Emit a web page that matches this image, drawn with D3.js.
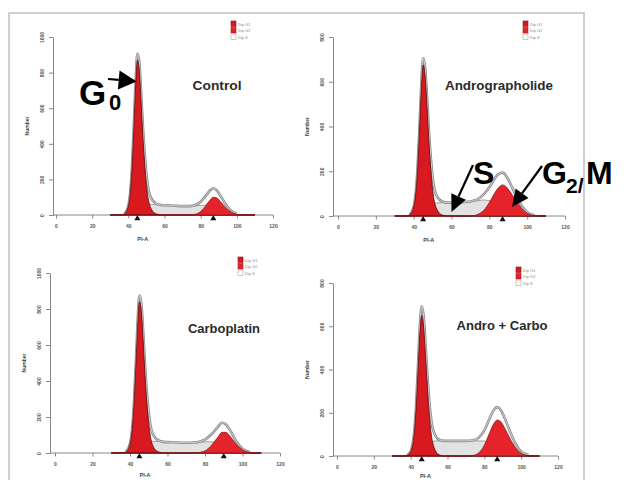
<!DOCTYPE html>
<html>
<head>
<meta charset="utf-8">
<script src="https://cdn.jsdelivr.net/npm/d3@7"></script>
<style>
  body { margin: 0; background: #fff; }
</style>
</head>
<body>
<svg id="chart"></svg>
<script>
// DNA content channel (PI-A), shared by all four histograms
const dna = [30, 36, 38, 40, 42, 43, 44, 45, 46, 47, 48, 50, 52, 55, 58, 62, 66, 70, 74, 77, 80, 83, 85, 87, 89, 91, 94, 97, 100, 104, 110];

const titles = ["Control", "Andrographolide", "Carboplatin", "Andro + Carbo"];
const yMax = [1000, 800, 1000, 800];
const g1Mean = [45, 45, 45, 46];
const g2Mean = [87, 87, 90, 87];
const xTicks = [0, 20, 40, 60, 80, 100, 120];
const legendLabels = ["Dip G1", "Dip G2", "Dip S"];

// cell counts per channel
const g1Control = [0, 0, 8, 50, 260, 480, 720, 870, 820, 650, 450, 170, 50, 8, 0, 0, 0, 0, 0, 0, 0, 0, 0, 0, 0, 0, 0, 0, 0, 0, 0];
const sControl  = [0, 0, 0, 2, 8, 15, 25, 35, 45, 52, 56, 60, 60, 58, 56, 54, 52, 50, 50, 52, 54, 55, 54, 50, 42, 32, 18, 8, 3, 0, 0];
const g2Control = [0, 0, 0, 0, 0, 0, 0, 0, 0, 0, 0, 0, 0, 0, 0, 0, 0, 0, 0, 4, 20, 55, 82, 100, 95, 75, 40, 15, 4, 0, 0];

const g1Andro = [0, 0, 6, 40, 200, 370, 560, 675, 630, 500, 340, 120, 35, 5, 0, 0, 0, 0, 0, 0, 0, 0, 0, 0, 0, 0, 0, 0, 0, 0, 0];
const sAndro  = [0, 0, 0, 2, 8, 14, 22, 30, 38, 45, 50, 56, 58, 60, 60, 60, 62, 65, 68, 72, 68, 64, 60, 55, 48, 38, 24, 12, 5, 1, 0];
const g2Andro = [0, 0, 0, 0, 0, 0, 0, 0, 0, 0, 0, 0, 0, 0, 0, 0, 0, 0, 8, 25, 60, 105, 128, 139, 130, 108, 70, 35, 12, 2, 0];

const g1Carbo = [0, 0, 8, 50, 250, 460, 690, 840, 790, 630, 430, 160, 45, 7, 0, 0, 0, 0, 0, 0, 0, 0, 0, 0, 0, 0, 0, 0, 0, 0, 0];
const sCarbo  = [0, 0, 0, 2, 8, 15, 25, 35, 45, 52, 58, 63, 65, 64, 62, 60, 58, 57, 58, 60, 62, 62, 60, 57, 53, 45, 30, 15, 6, 1, 0];
const g2Carbo = [0, 0, 0, 0, 0, 0, 0, 0, 0, 0, 0, 0, 0, 0, 0, 0, 0, 0, 0, 3, 12, 38, 62, 90, 115, 115, 85, 45, 18, 3, 0];

const g1Combo = [0, 0, 3, 20, 110, 230, 400, 570, 650, 600, 470, 200, 60, 8, 0, 0, 0, 0, 0, 0, 0, 0, 0, 0, 0, 0, 0, 0, 0, 0, 0];
const sCombo  = [0, 0, 0, 2, 8, 14, 22, 32, 42, 50, 56, 64, 68, 70, 70, 70, 70, 70, 70, 70, 69, 66, 63, 60, 54, 46, 32, 18, 8, 2, 0];
const g2Combo = [0, 0, 0, 0, 0, 0, 0, 0, 0, 0, 0, 0, 0, 0, 0, 0, 0, 0, 3, 15, 50, 110, 148, 166, 158, 130, 80, 38, 12, 2, 0];

const g1Series = [g1Control, g1Andro, g1Carbo, g1Combo];
const sSeries  = [sControl, sAndro, sCarbo, sCombo];
const g2Series = [g2Control, g2Andro, g2Carbo, g2Combo];

//------------------------------

const W = 625, H = 480;
const font = "'Liberation Sans', Arial, sans-serif";

// pixel frame of each panel
const layout = [
  {axisX: 53,  x0: 56,  x1: 273, y0: 215, y1: 37,  tx: 217, ty: 90,  tw: 49,  lab: 26},
  {axisX: 333, x0: 338, x1: 565, y0: 216, y1: 37,  tx: 499, ty: 90,  tw: 108, lab: 26},
  {axisX: 50,  x0: 55,  x1: 280, y0: 453, y1: 273, tx: 224, ty: 333, tw: 72,  lab: 24},
  {axisX: 333, x0: 337, x1: 558, y0: 456, y1: 283, tx: 502, ty: 330, tw: 91,  lab: 22}
];

const colors = {
  g1: "#d81920", g1Edge: "#5a0a0a",
  g2: "#e4242a", g2Edge: "#7a1010",
  s: "#e2e2e2", sEdge: "#7d7d7d",
  total: "#8a8a8a", axis: "#6a6a6a", tick: "#555"
};

let canvas = d3.select("#chart")
  .attr("xmlns", "http://www.w3.org/2000/svg")
  .attr("width", W)
  .attr("height", H);

canvas.append("rect")
  .attr("x", 0).attr("y", 0).attr("width", W).attr("height", H)
  .attr("fill", "#fff");

// outer frame of the figure
canvas.append("rect")
  .attr("x", 9).attr("y", 13)
  .attr("width", 575).attr("height", 490)
  .attr("fill", "none")
  .attr("stroke", "#c4c4c4")
  .attr("stroke-width", 1.6);

layout.forEach((p, i) => panelCreate(p, i));
annotCreate();

//------------------------------

function panelCreate(p, i) {
  const x = d3.scaleLinear().domain([0, 120]).range([p.x0, p.x1]);
  const y = d3.scaleLinear().domain([0, yMax[i]]).range([p.y0, p.y1]);
  const g = canvas.append("g");

  const rows = dna.map((d, k) => ({
    x: d,
    g1: g1Series[i][k],
    s: sSeries[i][k],
    g2: g2Series[i][k],
    total: g1Series[i][k] + sSeries[i][k] + g2Series[i][k]
  }));

  axisCreate(g, p, x, y, i);
  histCreate(g, rows, x, y);
  legendCreate(g, p);

  // peak markers
  g.selectAll("path.mark")
    .data([g1Mean[i], g2Mean[i]])
    .enter()
    .append("path")
    .attr("class", "mark")
    .attr("d", d3.symbol(d3.symbolTriangle).size(16))
    .attr("transform", d => `translate(${x(d)},${p.y0 + 3.5})`)
    .attr("fill", "#111");

  g.append("text")
    .attr("x", p.tx)
    .attr("y", p.ty)
    .attr("text-anchor", "middle")
    .attr("font-family", font)
    .attr("font-weight", "bold")
    .attr("font-size", 12)
    .attr("fill", "#2a2a2a")
    .attr("textLength", p.tw)
    .attr("lengthAdjust", "spacingAndGlyphs")
    .text(titles[i]);
}

function axisCreate(g, p, x, y, i) {
  // y axis
  const yAxis = g.append("g").attr("transform", `translate(${p.axisX},0)`);
  yAxis.call(d3.axisLeft(y).tickValues(d3.range(0, yMax[i] + 1, 40)).tickSize(2).tickFormat(""));
  yAxis.call(d3.axisLeft(y).tickValues(d3.range(0, yMax[i] + 1, 200)).tickSize(4).tickSizeOuter(0).tickFormat(d3.format("d")));
  yAxis.selectAll("path, line").attr("stroke", colors.axis).attr("stroke-width", 0.8);
  yAxis.selectAll("text")
    .attr("transform", "rotate(-90)")
    .attr("x", 0)
    .attr("y", -9)
    .attr("dy", 0)
    .attr("text-anchor", "middle")
    .attr("font-family", font)
    .attr("font-weight", "bold")
    .attr("font-size", 5)
    .attr("fill", colors.tick);

  // x axis
  const xAxis = g.append("g").attr("transform", `translate(0,${p.y0})`);
  xAxis.call(d3.axisBottom(x).tickValues(d3.range(0, 121, 4)).tickSize(2).tickFormat("").tickSizeOuter(0));
  xAxis.call(d3.axisBottom(x).tickValues(xTicks).tickSize(3.5).tickSizeOuter(0).tickPadding(6));
  xAxis.select(".domain").attr("d", `M${p.axisX},0H${p.x1}`);
  xAxis.selectAll("path, line").attr("stroke", colors.axis).attr("stroke-width", 0.8);
  xAxis.selectAll("text")
    .attr("font-family", font)
    .attr("font-weight", "bold")
    .attr("font-size", 5)
    .attr("fill", colors.tick);

  g.append("text")
    .attr("transform", `translate(${p.axisX - 24},${(p.y0 + p.y1) / 2}) rotate(-90)`)
    .attr("text-anchor", "middle")
    .attr("font-family", font)
    .attr("font-weight", "bold")
    .attr("font-size", 5)
    .attr("fill", "#444")
    .text("Number");

  g.append("text")
    .attr("x", x(48))
    .attr("y", p.y0 + p.lab)
    .attr("text-anchor", "middle")
    .attr("font-family", font)
    .attr("font-weight", "bold")
    .attr("font-size", 5.5)
    .attr("fill", "#444")
    .text("PI-A");
}

function histCreate(g, rows, x, y) {
  const curve = d3.curveMonotoneX;
  const area = key => d3.area()
    .x(d => x(d.x))
    .y0(y(0))
    .y1(d => y(d[key]))
    .curve(curve);
  const line = d3.line()
    .defined(d => d.total > 0)
    .x(d => x(d.x))
    .y(d => y(d.total))
    .curve(curve);

  g.append("path")
    .attr("d", area("s")(rows))
    .attr("fill", colors.s)
    .attr("stroke", colors.sEdge)
    .attr("stroke-width", 0.7);

  g.append("path")
    .attr("d", line(rows))
    .attr("fill", "none")
    .attr("stroke", colors.total)
    .attr("stroke-width", 2.6);
  g.append("path")
    .attr("d", line(rows))
    .attr("fill", "none")
    .attr("stroke", "#f2f2f2")
    .attr("stroke-width", 0.7);

  g.append("path")
    .attr("d", area("g1")(rows))
    .attr("fill", colors.g1)
    .attr("stroke", colors.g1Edge)
    .attr("stroke-width", 0.8);

  g.append("path")
    .attr("d", area("g2")(rows))
    .attr("fill", colors.g2)
    .attr("stroke", colors.g2Edge)
    .attr("stroke-width", 0.7);
}

function legendCreate(g, p) {
  const lx = p.x1 - 42;
  const ly = p.y1 - 16;
  const fills = [colors.g1, colors.g2, "#fff"];
  const strokes = ["#8a0f14", "#a81c20", "#c89a9a"];
  let leg = g.append("g");
  legendLabels.forEach((n, k) => {
    leg.append("rect")
      .attr("x", lx)
      .attr("y", ly + k * 6.5)
      .attr("width", 5)
      .attr("height", 5.5)
      .attr("fill", fills[k])
      .attr("stroke", strokes[k])
      .attr("stroke-width", 0.6);
    leg.append("text")
      .attr("x", lx + 7)
      .attr("y", ly + k * 6.5 + 4.5)
      .attr("font-family", font)
      .attr("font-size", 4)
      .attr("fill", "#8a8a8a")
      .text(n);
  });
}

function arrowCreate(tip, tail, len, w) {
  const dx = tip[0] - tail[0], dy = tip[1] - tail[1];
  const d = Math.hypot(dx, dy);
  const ux = dx / d, uy = dy / d;
  const bx = tip[0] - ux * len, by = tip[1] - uy * len;
  canvas.append("line")
    .attr("x1", tail[0]).attr("y1", tail[1])
    .attr("x2", bx).attr("y2", by)
    .attr("stroke", "#000")
    .attr("stroke-width", 2.2);
  canvas.append("path")
    .attr("d", `M${tip[0]},${tip[1]}L${bx - uy * w},${by + ux * w}L${bx + uy * w},${by - ux * w}Z`)
    .attr("fill", "#000");
}

function bigText(x, y, size, s) {
  canvas.append("text")
    .attr("x", x)
    .attr("y", y)
    .attr("font-family", font)
    .attr("font-weight", "bold")
    .attr("font-size", size)
    .attr("fill", "#000")
    .text(s);
}

function annotCreate() {
  const p0 = layout[0], p1 = layout[1];
  const x0 = d3.scaleLinear().domain([0, 120]).range([p0.x0, p0.x1]);
  const y0 = d3.scaleLinear().domain([0, yMax[0]]).range([p0.y0, p0.y1]);
  const x1 = d3.scaleLinear().domain([0, 120]).range([p1.x0, p1.x1]);
  const y1 = d3.scaleLinear().domain([0, yMax[1]]).range([p1.y0, p1.y1]);

  // G0 pointing at the control G1 peak
  bigText(79, 105, 35, "G");
  bigText(109, 110, 22, "0");
  arrowCreate([x0(44.6), y0(750)], [108, 79], 18, 9.5);

  // S and G2/M in the andrographolide panel
  bigText(473, 184, 32, "S");
  arrowCreate([x1(60), y1(18)], [473, 165], 17, 8);
  bigText(542, 184, 32, "G");
  bigText(566, 193, 21, "2/");
  bigText(586, 184, 32, "M");
  arrowCreate([x1(92), y1(40)], [542, 166], 17, 8);
}
</script>
</body>
</html>
